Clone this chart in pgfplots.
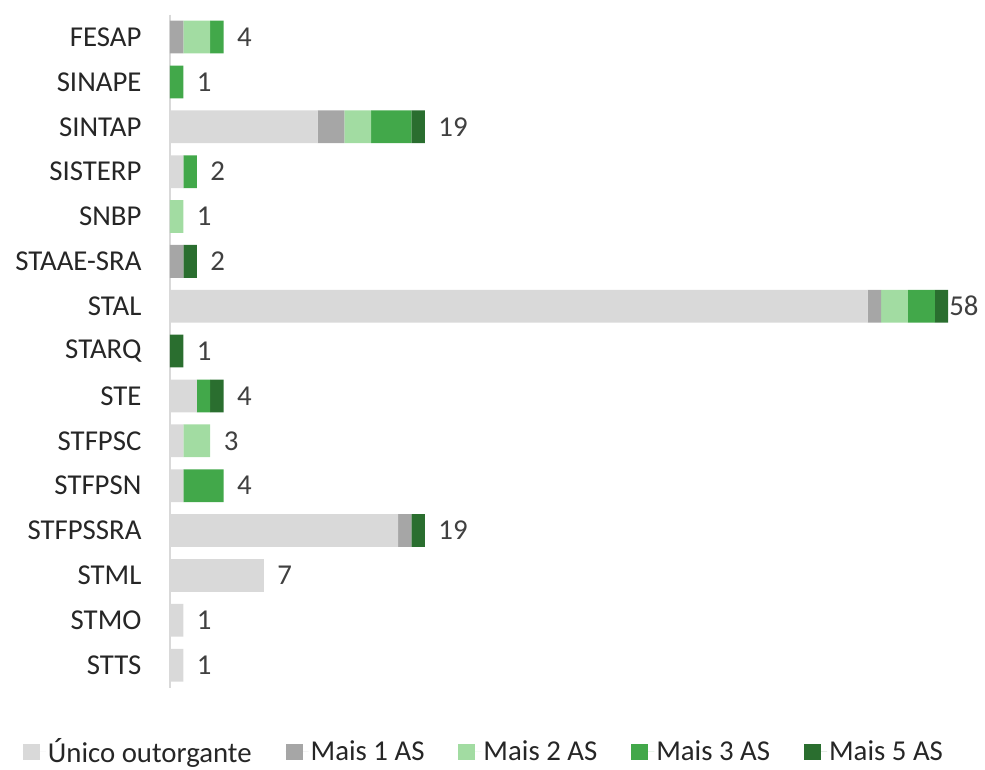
\documentclass[border=0pt]{standalone}
\usepackage{pgfplots}
\pgfplotsset{compat=1.18}
\usepackage{pgfplotstable}
\usepackage{fontspec}
\setmainfont{Carlito}
\definecolor{cU}{HTML}{D9D9D9}
\definecolor{cA}{HTML}{A6A6A6}
\definecolor{cB}{HTML}{A2DCA2}
\definecolor{cC}{HTML}{42A84A}
\definecolor{cD}{HTML}{2A6E2F}
\definecolor{txt}{HTML}{262626}
\definecolor{num}{HTML}{404040}
\pgfplotstableread{
y u m1 m2 m3 m5 t
0 0 1 2 1 0 4
1 0 0 0 1 0 1
2 11 2 2 3 1 19
3 1 0 0 1 0 2
4 0 0 1 0 0 1
5 0 1 0 0 1 2
6 52 1 2 2 1 58
7 0 0 0 0 1 1
8 2 0 0 1 1 4
9 1 0 2 0 0 3
10 1 0 0 3 0 4
11 17 1 0 0 1 19
12 7 0 0 0 0 7
13 1 0 0 0 0 1
14 1 0 0 0 0 1
}\data
\pgfplotstableread{
y t
0 4
1 1
2 19
3 2
4 1
5 2
7 1
8 4
9 3
10 4
11 19
12 7
13 1
14 1
}\totals
\pgfplotstableread{
y t
6 58
}\totalstal
\newcommand{\bigfont}{\fontsize{28.8}{33}\selectfont}
\pgfplotsset{common/.style={
 scale only axis, width=805pt, height=673pt,
 xmin=0, xmax=60, ymin=-0.5, ymax=14.5, y dir=reverse}}
\begin{document}
\begin{tikzpicture}
\begin{axis}[
 common,
 xbar stacked, bar width=0.73,
 ytick={0,...,14},
 yticklabels={FESAP,SINAPE,SINTAP,SISTERP,SNBP,STAAE-SRA,STAL,STARQ,STE,STFPSC,STFPSN,STFPSSRA,STML,STMO,STTS},
 axis x line=none,
 axis y line*=left,
 y axis line style={draw=cU, line width=1.5pt, -},
 major tick length=0pt,
 tick label style={font=\bigfont, text=txt},
 yticklabel style={xshift=-25pt},
 legend style={at={(0.390,-0.095)}, anchor=center, draw=none, fill=none,
   legend columns=-1, font=\bigfont, text=txt, nodes={inner ysep=0pt},
   /tikz/every even column/.append style={column sep=32pt}},
 legend image code/.code={\fill[#1] (0pt,-8pt) rectangle (17pt,8pt); \path (0pt,0pt) -- (23pt,0pt);},
]
\addplot[fill=cU, draw=none] table[x=u,y=y]{\data};
\addplot[fill=cA, draw=none] table[x=m1,y=y]{\data};
\addplot[fill=cB, draw=none] table[x=m2,y=y]{\data};
\addplot[fill=cC, draw=none] table[x=m3,y=y]{\data};
\addplot[fill=cD, draw=none] table[x=m5,y=y]{\data};
\legend{Único outorgante, Mais 1 AS, Mais 2 AS, Mais 3 AS, Mais 5 AS}
\coordinate (bl) at (axis description cs:0,0);
\coordinate (tr) at (axis description cs:1,1);
\end{axis}
\begin{axis}[
 common, hide axis,
 every node near coord/.append style={font=\bigfont, text=num, anchor=west},
]
\addplot[only marks, mark=none, nodes near coords, point meta=explicit symbolic,
  every node near coord/.append style={xshift=10pt}] table[x=t,y=y,meta=t]{\totals};
\addplot[only marks, mark=none, nodes near coords, point meta=explicit symbolic,
  every node near coord/.append style={xshift=0pt, inner xsep=1pt}] table[x=t,y=y,meta=t]{\totalstal};
\end{axis}
\pgfresetboundingbox
\path ([xshift=-170pt,yshift=-81.6pt]bl) rectangle ([xshift=10pt,yshift=14.6pt]tr);
\end{tikzpicture}
\end{document}
